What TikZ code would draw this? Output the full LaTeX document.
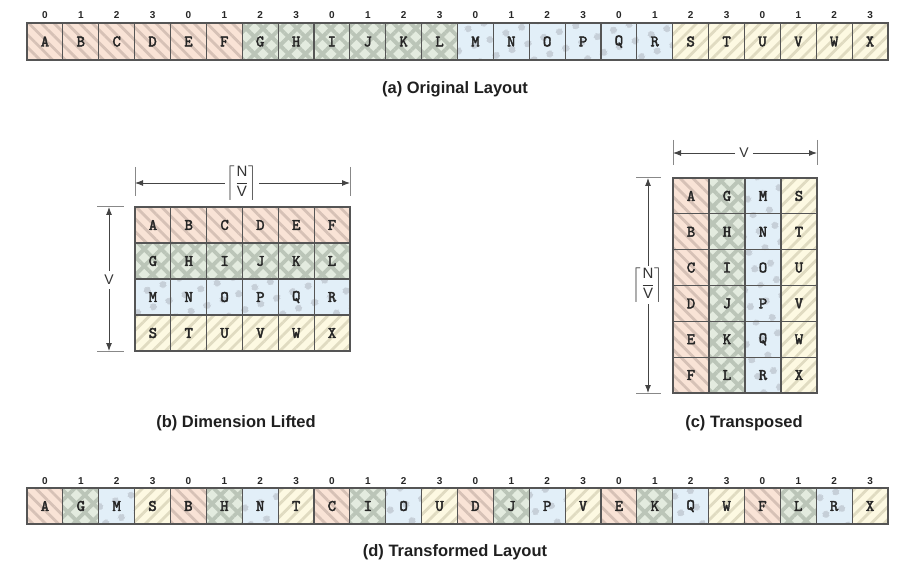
\documentclass[tikz,border=0pt]{standalone}
\usepackage{fontspec}
\usepackage{amsmath}
\setmainfont{Liberation Sans}
\newfontfamily\cellfont{lmmono10-regular.otf}[AutoFakeBold=2.6]
\usetikzlibrary{patterns.meta,arrows.meta}
\definecolor{rf}{HTML}{F9E3D6}
\definecolor{rp}{HTML}{D6C1B6}
\definecolor{gf}{HTML}{E3EBDF}
\definecolor{gp}{HTML}{BBC5B8}
\definecolor{bf}{HTML}{E2EFF8}
\definecolor{bp}{HTML}{C6CFD8}
\definecolor{yf}{HTML}{FDF9E2}
\definecolor{yp}{HTML}{E0DBC1}
\definecolor{cellline}{HTML}{555555}
\definecolor{dimline}{HTML}{444444}
\definecolor{tickline}{HTML}{888888}
\begin{document}
\begin{tikzpicture}[x=1pt,y=-1pt,
  cellbase/.style={draw=cellline, line width=1.1pt, inner sep=0pt,
    font=\cellfont\bfseries\fontsize{16}{16}\selectfont, text=black!85},
  col0/.style={cellbase, preaction={fill=rf}, pattern={Lines[angle=-45,distance=9pt,line width=2.8pt]}, pattern color=rp},
  col1/.style={cellbase, preaction={fill=gf}, pattern={Hatch[angle=45,distance=12pt,line width=3.8pt]}, pattern color=gp},
  col2/.style={cellbase, preaction={fill=bf}, pattern={Dots[radius=3.6pt,distance=17pt,angle=20]}, pattern color=bp},
  col3/.style={cellbase, preaction={fill=yf}, pattern={Lines[angle=45,distance=9pt,line width=2.8pt]}, pattern color=yp},
  idx/.style={font=\bfseries\fontsize{10}{10}\selectfont, text=black!85, inner sep=0pt},
  captxt/.style={font=\bfseries\fontsize{16.5}{16.5}\selectfont, text=black!88, inner sep=0pt},
  dimlbl/.style={font=\fontsize{14}{14}\selectfont, text=black!80, inner sep=4pt},
  nvlbl/.style={font=\fontsize{15}{15}\selectfont, text=black!80, inner sep=2pt},
  dimarrow/.style={draw=dimline, line width=0.9pt, -{Latex[length=8pt,width=6pt]}},
  tickln/.style={draw=tickline, line width=1pt}
]
\useasboundingbox (0,0) rectangle (916,580);

% (a) original layout
\foreach \i/\cl in {0/A,1/B,2/C,3/D,4/E,5/F,6/G,7/H,8/I,9/J,10/K,11/L,12/M,13/N,14/O,15/P,16/Q,17/R,18/S,19/T,20/U,21/V,22/W,23/X}{
  \pgfmathtruncatemacro\g{int(\i/6)}
  \pgfmathtruncatemacro\k{mod(\i,4)}
  \node[col\g, minimum width=35.875pt, minimum height=37pt] (t\i) at ({27+(\i+0.5)*35.875},41.5) {\cl};
  \node[idx] (ti\i) at ({27+(\i+0.5)*35.875},15) {\k};
}
\node[captxt] (capa) at (455,89) {(a) Original Layout};

% (b) dimension lifted
\foreach \r in {0,...,3}{
  \foreach \c in {0,...,5}{
    \pgfmathtruncatemacro\n{\r*6+\c}
    \node[col\r, minimum width=35.83pt, minimum height=36pt] (gB-\r-\c) at ({135+(\c+0.5)*35.83},{207+(\r+0.5)*36})
      {\ifcase\n A\or B\or C\or D\or E\or F\or G\or H\or I\or J\or K\or L\or M\or N\or O\or P\or Q\or R\or S\or T\or U\or V\or W\or X\fi};
  }
}
\coordinate (bt1a) at (135,167); \coordinate (bt1b) at (135,196);
\coordinate (bt2a) at (350,167); \coordinate (bt2b) at (350,196);
\draw[tickln] (bt1a) -- (bt1b);
\draw[tickln] (bt2a) -- (bt2b);
\coordinate (bhL) at (135,183); \coordinate (bhR) at (350,183);
\node[nvlbl] (bNV) at (242,183) {$\left\lceil\dfrac{\text{N}}{\text{V}}\right\rceil$};
\draw[dimarrow] (bNV.west) -- (bhL);
\draw[dimarrow] (bNV.east) -- (bhR);
\coordinate (bv1a) at (97,207); \coordinate (bv1b) at (124,207);
\coordinate (bv2a) at (97,351); \coordinate (bv2b) at (124,351);
\draw[tickln] (bv1a) -- (bv1b);
\draw[tickln] (bv2a) -- (bv2b);
\coordinate (bvT) at (109,207); \coordinate (bvB) at (109,351);
\node[dimlbl] (bV) at (109,280) {V};
\draw[dimarrow] (bV.north) -- (bvT);
\draw[dimarrow] (bV.south) -- (bvB);
\node[captxt] (capb) at (236,423) {(b) Dimension Lifted};

% (c) transposed
\foreach \r in {0,...,5}{
  \foreach \c in {0,...,3}{
    \pgfmathtruncatemacro\n{\c*6+\r}
    \node[col\c, minimum width=36pt, minimum height=35.83pt] (gC-\r-\c) at ({673+(\c+0.5)*36},{178+(\r+0.5)*35.83})
      {\ifcase\n A\or B\or C\or D\or E\or F\or G\or H\or I\or J\or K\or L\or M\or N\or O\or P\or Q\or R\or S\or T\or U\or V\or W\or X\fi};
  }
}
\coordinate (ct1a) at (673,140); \coordinate (ct1b) at (673,165);
\coordinate (ct2a) at (817,140); \coordinate (ct2b) at (817,165);
\draw[tickln] (ct1a) -- (ct1b);
\draw[tickln] (ct2a) -- (ct2b);
\coordinate (chL) at (673,153); \coordinate (chR) at (817,153);
\node[dimlbl] (cV) at (744,153) {V};
\draw[dimarrow] (cV.west) -- (chL);
\draw[dimarrow] (cV.east) -- (chR);
\coordinate (cv1a) at (636,178); \coordinate (cv1b) at (661,178);
\coordinate (cv2a) at (636,393); \coordinate (cv2b) at (661,393);
\draw[tickln] (cv1a) -- (cv1b);
\draw[tickln] (cv2a) -- (cv2b);
\coordinate (cvT) at (648,178); \coordinate (cvB) at (648,393);
\node[nvlbl] (cNV) at (648,285) {$\left\lceil\dfrac{\text{N}}{\text{V}}\right\rceil$};
\draw[dimarrow] (cNV.north) -- (cvT);
\draw[dimarrow] (cNV.south) -- (cvB);
\node[captxt] (capc) at (744,423) {(c) Transposed};

% (d) transformed layout
\foreach \i/\cl in {0/A,1/G,2/M,3/S,4/B,5/H,6/N,7/T,8/C,9/I,10/O,11/U,12/D,13/J,14/P,15/V,16/E,17/K,18/Q,19/W,20/F,21/L,22/R,23/X}{
  \pgfmathtruncatemacro\k{mod(\i,4)}
  \node[col\k, minimum width=35.875pt, minimum height=36pt] (b\i) at ({27+(\i+0.5)*35.875},506) {\cl};
  \node[idx] (bi\i) at ({27+(\i+0.5)*35.875},481) {\k};
}
\node[captxt] (capd) at (455,552) {(d) Transformed Layout};
\end{tikzpicture}
\end{document}
